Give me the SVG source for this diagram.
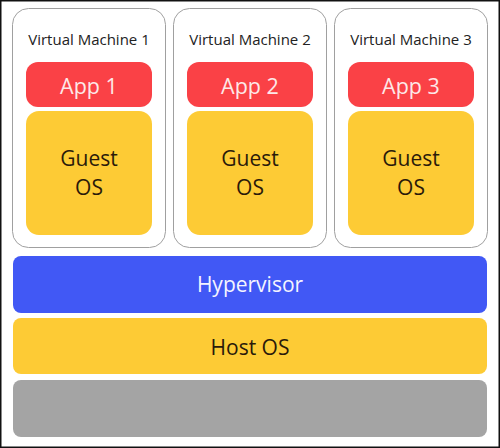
<svg xmlns="http://www.w3.org/2000/svg" width="500" height="448" viewBox="0 0 500 448">
<style>
text{font-family:"Open Sans","Noto Sans","Liberation Sans",sans-serif;text-anchor:middle}
.vm{fill:#ffffff;stroke:#a0a0a0;stroke-width:1}
.app{fill:#fa4146}
.os{fill:#fdcb35}
.title{font-size:15px;fill:#222222}
.applabel{font-size:21.5px;fill:#fde8e8}
.oslabel{font-size:21px;fill:#2a1a0a}
.barlabel{font-size:21px}
</style>
<rect x="0" y="0" width="500" height="448" fill="#ffffff"/>
<rect x="0.75" y="0.75" width="498.5" height="446.5" fill="none" stroke="#111111" stroke-width="1.5"/>
<g id="vm1">
<rect class="vm" x="12.5" y="8.5" width="153" height="239" rx="16"/>
<text class="title" x="89" y="45">Virtual Machine 1</text>
<rect class="app" x="26" y="62" width="126" height="45" rx="12"/>
<text class="applabel" x="89" y="94">App 1</text>
<rect class="os" x="26" y="111" width="126" height="124" rx="13"/>
<text class="oslabel" x="89" y="166">Guest</text>
<text class="oslabel" x="89" y="195">OS</text>
</g>
<g id="vm2">
<rect class="vm" x="173.5" y="8.5" width="153" height="239" rx="16"/>
<text class="title" x="250" y="45">Virtual Machine 2</text>
<rect class="app" x="187" y="62" width="126" height="45" rx="12"/>
<text class="applabel" x="250" y="94">App 2</text>
<rect class="os" x="187" y="111" width="126" height="124" rx="13"/>
<text class="oslabel" x="250" y="166">Guest</text>
<text class="oslabel" x="250" y="195">OS</text>
</g>
<g id="vm3">
<rect class="vm" x="334.5" y="8.5" width="153" height="239" rx="16"/>
<text class="title" x="411" y="45">Virtual Machine 3</text>
<rect class="app" x="348" y="62" width="126" height="45" rx="12"/>
<text class="applabel" x="411" y="94">App 3</text>
<rect class="os" x="348" y="111" width="126" height="124" rx="13"/>
<text class="oslabel" x="411" y="166">Guest</text>
<text class="oslabel" x="411" y="195">OS</text>
</g>
<g id="hypervisor">
<rect x="13" y="256" width="474" height="57" rx="8" fill="#4158f5"/>
<text class="barlabel" x="250" y="292" fill="#f4f4ff">Hypervisor</text>
</g>
<g id="hostos">
<rect x="13" y="318" width="474" height="56" rx="8" fill="#fdcb35"/>
<text class="barlabel" x="250" y="355" fill="#2a1a0a">Host OS</text>
</g>
<g id="hardware">
<rect x="13" y="380" width="474" height="57" rx="8" fill="#a4a4a4"/>
</g>
<g id="connectors"></g>
</svg>
